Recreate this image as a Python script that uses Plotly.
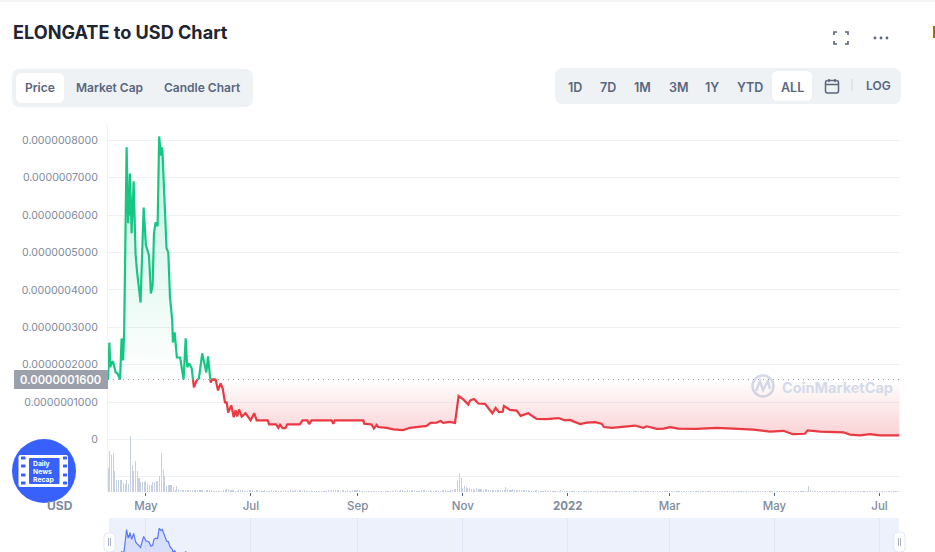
import pandas as pd
import plotly.graph_objects as go

# ---------- data ----------
START_DATE = "2021-04-09"
END_DAY = 459.9
BASELINE_E7 = 1.6
PRICE_DAYS = [0,0.8,1.3,2.5,3.0,4.5,5.6,7.0,7.9,8.8,9.4,10.1,10.8,11.7,12.1,12.3,12.7,13.3,13.7,14.9,16.0,16.8,18.9,20.7,22.0,23.8,24.9,25.9,26.7,27.6,28.8,29.7,30.7,31.5,33.1,34.0,35.0,36.0,37.3,37.7,38.7,40.0,41.9,43.9,45.1,46.0,47.2,48.6,49.9,51.5,52.8,54.7,56.3,57.1,58.1,59.6,60.5,62.5,63.9,65.4,66.6,67.9,68.9,69.8,71.6,73.0,74.1,75.0,76.1,77.6,79.9,81.4,82.8,84.9,86.3,92.7,93.6,97.6,98.9,99.9,101.4,103.0,104.1,111.4,113.0,115.7,116.8,118.2,129.9,130.8,131.8,148.2,148.8,153.1,154.4,156.0,156.9,161.8,165.7,171.4,175.3,185.0,187.3,190.8,193.2,194.7,198.5,201.5,203.6,206.3,209.2,210.2,212.5,215.0,218.9,223.2,225.1,227.0,229.2,229.9,233.4,237.3,239.6,244.0,248.9,254.7,261.5,265.3,268.2,274.1,278.0,282.8,286.6,288.0,292.5,297.3,303.1,306.0,310.9,312.8,318.6,322.5,326.4,331.2,341.9,353.5,363.1,374.7,384.4,392.2,397.6,404.7,406.3,413.5,427.0,430.9,436.7,442.5,448.3,459.5]
PRICE_E7 = [1.60,2.59,1.93,2.09,2.06,1.79,1.76,1.60,2.70,2.11,2.91,5.32,7.81,5.78,6.52,5.99,7.11,6.26,5.51,6.90,4.97,4.52,3.66,6.20,5.19,4.92,3.90,4.12,5.51,5.80,5.70,8.10,7.59,7.81,5.86,5.11,5.00,3.80,3.18,2.59,2.86,2.19,2.19,1.60,2.70,1.93,2.03,1.90,1.39,1.58,1.63,2.30,1.90,1.79,2.22,1.52,1.60,1.60,1.31,1.50,1.36,0.99,0.99,0.72,0.91,0.59,0.78,0.61,0.80,0.61,0.70,0.61,0.51,0.70,0.51,0.51,0.40,0.40,0.31,0.39,0.30,0.30,0.40,0.40,0.51,0.51,0.41,0.51,0.51,0.42,0.51,0.51,0.42,0.40,0.29,0.39,0.33,0.31,0.27,0.25,0.31,0.36,0.44,0.45,0.49,0.44,0.47,0.44,1.16,1.07,0.93,1.04,1.08,0.96,0.95,0.70,0.84,0.73,0.74,0.89,0.79,0.77,0.63,0.70,0.55,0.54,0.57,0.51,0.52,0.41,0.45,0.46,0.42,0.33,0.31,0.33,0.37,0.37,0.31,0.35,0.28,0.29,0.33,0.29,0.28,0.31,0.29,0.26,0.21,0.23,0.14,0.15,0.24,0.21,0.19,0.13,0.11,0.14,0.11,0.11]
VOLUME = [
24,41,37,39,21,12,12,12,12,9,8,12,8,56,27,21,31,21,14,10,
10,10,11,8,7,7,10,10,11,11,16,39,23,16,6,7,7,7,5,2,
6,3,2,2,2,2,2,2,2,2,2,2,2,2,2,2,1,2,2,2,
2,1,1,1,1,1,1,2,2,3,3,2,2,2,1,1,2,2,2,1,
1,1,2,2,2,1,2,2,1,1,1,2,1,1,1,2,1,2,1,1,
1,1,1,2,1,1,2,2,1,2,1,2,2,1,2,1,1,1,1,1,
1,1,1,1,1,1,1,1,2,1,2,2,2,2,2,1,2,2,1,2,
1,1,2,2,2,2,2,1,1,1,1,1,1,1,1,1,1,1,1,1,
1,1,1,1,1,1,1,2,1,1,2,2,1,1,2,1,2,2,2,1,
1,1,2,2,2,1,1,2,1,1,1,2,1,1,2,2,2,1,1,2,
2,3,3,11,19,14,4,6,5,4,4,3,3,2,4,3,3,3,2,3,
3,2,2,2,2,2,2,2,2,2,2,5,3,2,2,3,2,2,2,2,
2,2,2,2,2,1,1,1,2,2,1,1,1,1,2,1,1,1,1,1,
1,1,1,2,1,1,1,1,1,1,1,1,1,1,1,1,1,1,1,1,
1,1,1,1,1,1,1,1,1,1,1,1,1,1,1,1,1,1,1,1,
1,1,1,1,1,1,1,1,1,1,1,1,1,1,1,1,1,1,1,1,
1,1,1,1,1,1,1,1,1,1,1,1,1,1,1,1,1,1,1,1,
1,1,1,1,1,1,1,1,1,1,1,1,1,1,1,1,1,1,1,1,
1,1,1,1,1,1,1,1,1,1,1,1,1,1,1,1,1,1,1,1,
1,1,1,1,1,1,1,1,1,1,1,1,1,1,1,1,1,1,1,1,
1,1,1,1,1,1,1,6,2,1,1,1,1,1,1,1,1,1,1,1,
1,1,1,1,1,1,1,1,1,1,1,1,1,1,1,1,1,1,1,1,
1,1,1,1,1,1,1,1,1,1,1,1,1,1,1,1,1,1,1,1,
]
X_TICK_DATES = ["2021-05-01","2021-07-01","2021-09-01","2021-11-01","2022-01-01","2022-03-01","2022-05-01","2022-07-01"]
X_TICK_TEXT = ["May","Jul","Sep","Nov","<b>2022</b>","Mar","May","Jul"]
Y_TICK_E7 = [-1,0,1,2,3,4,5,6,7,8]
Y_TICK_TEXT = ["","0","0.0000001000","0.0000002000","0.0000003000","0.0000004000","0.0000005000","0.0000006000","0.0000007000","0.0000008000"]
TABS = ["Price","Market Cap","Candle Chart"]
RANGES = ["1D","7D","1M","3M","1Y","YTD","ALL"]

# ---------- styles ----------
W, H = 935, 552
FONT = "Inter, 'Noto Sans', sans-serif"
GREEN, RED = "#16c784", "#ea3943"
GRID = "#eff2f5"
MUTED = "#808a9d"
SLATE = "#58667e"
BLUE = "#3861fb"
fx = lambda p: p / W
fy = lambda p: 1 - p / H

start = pd.Timestamp(START_DATE)
to_date = lambda d: start + pd.to_timedelta(d, unit="D")
scale = 1e-7

# split the price line at the baseline so that colour and fill change there
days, vals = [], []
for i, (d, v) in enumerate(zip(PRICE_DAYS, PRICE_E7)):
    if i:
        d0, v0 = PRICE_DAYS[i - 1], PRICE_E7[i - 1]
        if (v0 - BASELINE_E7) * (v - BASELINE_E7) < 0:
            days.append(d0 + (BASELINE_E7 - v0) / (v - v0) * (d - d0))
            vals.append(BASELINE_E7)
    days.append(d)
    vals.append(v)
dates = [to_date(d) for d in days]
dates_all = [to_date(d) for d in PRICE_DAYS]
base_y = [BASELINE_E7 * scale] * len(dates)

fig = go.Figure()

# fills
fig.add_trace(go.Scatter(x=dates, y=base_y, mode="lines", line=dict(width=0), hoverinfo="skip"))
fig.add_trace(go.Scatter(x=dates, y=[max(v, BASELINE_E7) * scale for v in vals], mode="lines", line=dict(width=0),
    fill="tonexty", hoverinfo="skip",
    fillgradient=dict(type="vertical", colorscale=[[0, "rgba(22,199,132,0.24)"], [1, "rgba(22,199,132,0)"]],
                      start=8.1e-7, stop=1.6e-7)))
fig.add_trace(go.Scatter(x=dates, y=base_y, mode="lines", line=dict(width=0), hoverinfo="skip"))
fig.add_trace(go.Scatter(x=dates, y=[min(v, BASELINE_E7) * scale for v in vals], mode="lines", line=dict(width=0),
    fill="tonexty", hoverinfo="skip",
    fillgradient=dict(type="vertical", colorscale=[[0, "rgba(234,57,67,0)"], [1, "rgba(234,57,67,0.24)"]],
                      start=1.6e-7, stop=0)))
# baseline
fig.add_trace(go.Scatter(x=[dates[0], to_date(END_DAY)], y=[BASELINE_E7 * scale] * 2, mode="lines",
    line=dict(color="#8f96a3", width=1, dash="1px 4px"), hoverinfo="skip"))
# price lines
fig.add_trace(go.Scatter(x=dates, y=[v * scale if v >= BASELINE_E7 else None for v in vals], mode="lines",
    line=dict(color=GREEN, width=2.2), connectgaps=False, hoverinfo="skip"))
fig.add_trace(go.Scatter(x=dates, y=[v * scale if v <= BASELINE_E7 else None for v in vals], mode="lines",
    line=dict(color=RED, width=2.2), connectgaps=False, hoverinfo="skip"))
# volume
fig.add_trace(go.Bar(x=[to_date(i) for i in range(len(VOLUME))], y=VOLUME, yaxis="y2",
    marker=dict(color="#c6d0e1", line=dict(width=0)), width=0.62 * 86400000, hoverinfo="skip"))
# navigator
fig.add_trace(go.Scatter(x=dates_all, y=PRICE_E7, xaxis="x3", yaxis="y3", mode="lines",
    line=dict(color="#5579f7", width=1.2), fill="tozeroy", fillcolor="rgba(56,97,251,0.12)", hoverinfo="skip"))

shapes = []
def rrect(x0, y0, x1, y1, r, fill, line=None, layer="below", lw=1):
    p = (f"M {fx(x0+r)} {fy(y0)} L {fx(x1-r)} {fy(y0)} Q {fx(x1)} {fy(y0)} {fx(x1)} {fy(y0+r)} "
         f"L {fx(x1)} {fy(y1-r)} Q {fx(x1)} {fy(y1)} {fx(x1-r)} {fy(y1)} L {fx(x0+r)} {fy(y1)} "
         f"Q {fx(x0)} {fy(y1)} {fx(x0)} {fy(y1-r)} L {fx(x0)} {fy(y0+r)} Q {fx(x0)} {fy(y0)} {fx(x0+r)} {fy(y0)} Z")
    shapes.append(dict(type="path", xref="paper", yref="paper", path=p, fillcolor=fill, layer=layer,
                       line=dict(color=line or fill, width=lw if line else 0)))
def seg(x0, y0, x1, y1, color, w=1, layer="above"):
    shapes.append(dict(type="line", xref="paper", yref="paper", x0=fx(x0), y0=fy(y0), x1=fx(x1), y1=fy(y1),
                       line=dict(color=color, width=w), layer=layer))
def dot(cx, cy, r, color, layer="above"):
    shapes.append(dict(type="circle", xref="paper", yref="paper", x0=fx(cx-r), y0=fy(cy-r), x1=fx(cx+r), y1=fy(cy+r),
                       fillcolor=color, line=dict(width=0), layer=layer))

# page furniture
seg(0, 1, W, 1, GRID, 1.5, "below")
seg(934, 26, 934, 38, "#b06a00", 2, "below")
rrect(12, 69, 253, 107, 8, GRID)
rrect(16, 73, 64, 103, 6, "#ffffff")
rrect(555, 68, 901, 104, 8, GRID)
rrect(772, 71, 812, 101, 6, "#ffffff")
seg(852, 79, 852, 91, "#cfd6e4", 1, "below")
# calendar icon
rrect(825.5, 80.5, 838.5, 93, 2, "rgba(0,0,0,0)", SLATE, "above", 1.5)
seg(825.5, 84.5, 838.5, 84.5, SLATE, 1.5)
seg(829, 79, 829, 82, SLATE, 1.5)
seg(835, 79, 835, 82, SLATE, 1.5)
# fullscreen icon
for (cx, cy, sx, sy) in [(834, 32, 1, 1), (848, 32, -1, 1), (834, 44, 1, -1), (848, 44, -1, -1)]:
    shapes.append(dict(type="path", xref="paper", yref="paper", layer="above",
        path=f"M {fx(cx)} {fy(cy+3*sy)} L {fx(cx)} {fy(cy)} L {fx(cx+3*sx)} {fy(cy)}",
        line=dict(color=SLATE, width=1.6)))
for cx in (875, 881, 887):
    dot(cx, 38, 1.4, SLATE)
# current price tag
rrect(14, 370, 108, 389, 0.5, "#9ba0ab", None, "above")
# watermark
WM = "#d3dbe9"
shapes.append(dict(type="circle", xref="paper", yref="paper", x0=fx(752.5), y0=fy(375.5), x1=fx(773.5), y1=fy(396.5),
                   line=dict(color=WM, width=2.5), layer="below"))
shapes.append(dict(type="path", xref="paper", yref="paper", layer="below",
    path=f"M {fx(756)} {fy(391)} L {fx(760)} {fy(381)} L {fx(763)} {fy(390)} L {fx(768)} {fy(381)} L {fx(770)} {fy(389)}",
    line=dict(color=WM, width=2.5)))
# navigator background and handles
rrect(109, 518, 899, 552, 0.1, "#edf1fc")
rrect(104, 533, 115, 552, 4, "#ffffff", "#e4e8f0", "above")
seg(108.5, 538, 108.5, 546, "#a9b2c3"); seg(110.5, 538, 110.5, 546, "#a9b2c3")
rrect(894, 532, 905, 552, 4, "#ffffff", "#e4e8f0", "above")
seg(898.5, 538, 898.5, 546, "#a9b2c3"); seg(900.5, 538, 900.5, 546, "#a9b2c3")
# news badge
dot(44, 471, 32, BLUE)
rrect(18.5, 455, 68, 487, 2, "#ffffff", None, "above")
rrect(29, 458, 59.5, 484, 1, BLUE, None, "above")
for hy in (458, 466, 475, 483):
    rrect(21, hy - 1.5, 25.5, hy + 1.5, 0.5, BLUE, None, "above")
    rrect(63, hy - 1.5, 67, hy + 1.5, 0.5, BLUE, None, "above")

ann = []
def text(x, y, s, size=12, color=SLATE, anchor="center", weight=600):
    ann.append(dict(xref="paper", yref="paper", x=fx(x), y=fy(y), text=s, showarrow=False, xanchor=anchor, yanchor="middle",
                    font=dict(family=FONT, size=size, color=color, weight=weight), align="left", borderpad=0))
text(11.5, 32, "ELONGATE to USD Chart", 18.1, "#222531", "left", 700)
for s, x in zip(TABS, [40, 109.5, 202.5]):
    text(x, 87.5, s, 12, SLATE)
for s, x in zip(RANGES, [574.5, 608, 642, 678, 712, 750, 792]):
    text(x, 87, s, 12.5, SLATE)
text(878, 85.5, "LOG", 12, SLATE)
text(60, 379.5, "0.0000001600", 11.2, "#ffffff", "center", 600)
text(60, 505, "USD", 12, MUTED, "center", 700)
text(837, 387, "CoinMarketCap", 14.5, WM, "center", 700)
for s, y in zip(["Daily", "News", "Recap"], [463, 471, 479]):
    text(32, y, s, 6.8, "#ffffff", "left", 700)

fig.update_layout(
    width=W, height=H, margin=dict(l=0, r=0, t=0, b=0), autosize=False, showlegend=False,
    paper_bgcolor="rgba(0,0,0,0)", plot_bgcolor="rgba(0,0,0,0)", bargap=0,
    font=dict(family=FONT, size=11.5, color=MUTED, weight=500),
    shapes=shapes, annotations=ann,
    xaxis=dict(domain=[fx(108), fx(900)], range=[start, to_date(END_DAY)], anchor="y", type="date",
               tickmode="array", tickvals=X_TICK_DATES, ticktext=X_TICK_TEXT, ticks="outside", ticklen=3,
               tickcolor="#58667e", tickwidth=1, showgrid=False, zeroline=False, showline=False,
               tickfont=dict(size=11.5, color=MUTED, family=FONT, weight=500)),
    yaxis=dict(domain=[fy(492), fy(125)], range=[(439.4 - 492) / 37.4 * scale, (439.4 - 125) / 37.4 * scale],
               anchor="x", tickmode="array", tickvals=[t * scale for t in Y_TICK_E7], ticktext=Y_TICK_TEXT,
               showgrid=True, gridcolor=GRID, gridwidth=1, zeroline=False, showline=True, linecolor=GRID, linewidth=1,
               ticks="", ticklabelstandoff=7,
               tickfont=dict(size=10.6, color=MUTED, family=FONT, weight=400)),
    yaxis2=dict(domain=[fy(492), fy(430)], range=[0, 62], anchor="x", visible=False, showgrid=False, overlaying=None),
    xaxis3=dict(domain=[fx(108), fx(900)], range=[start, to_date(END_DAY)], anchor="y3", type="date",
                tickmode="array", tickvals=X_TICK_DATES, ticks="", showticklabels=False,
                showgrid=True, gridcolor="#dfe6f6", gridwidth=1, zeroline=False, showline=False),
    yaxis3=dict(domain=[0, 34 / H], range=[2.56, 10.5], anchor="x3", visible=False, showgrid=False, zeroline=False),
)
fig.write_html("out.html", config=dict(displayModeBar=False, staticPlot=True),
               post_script="document.body.style.margin='0';document.documentElement.style.overflow='hidden';")
